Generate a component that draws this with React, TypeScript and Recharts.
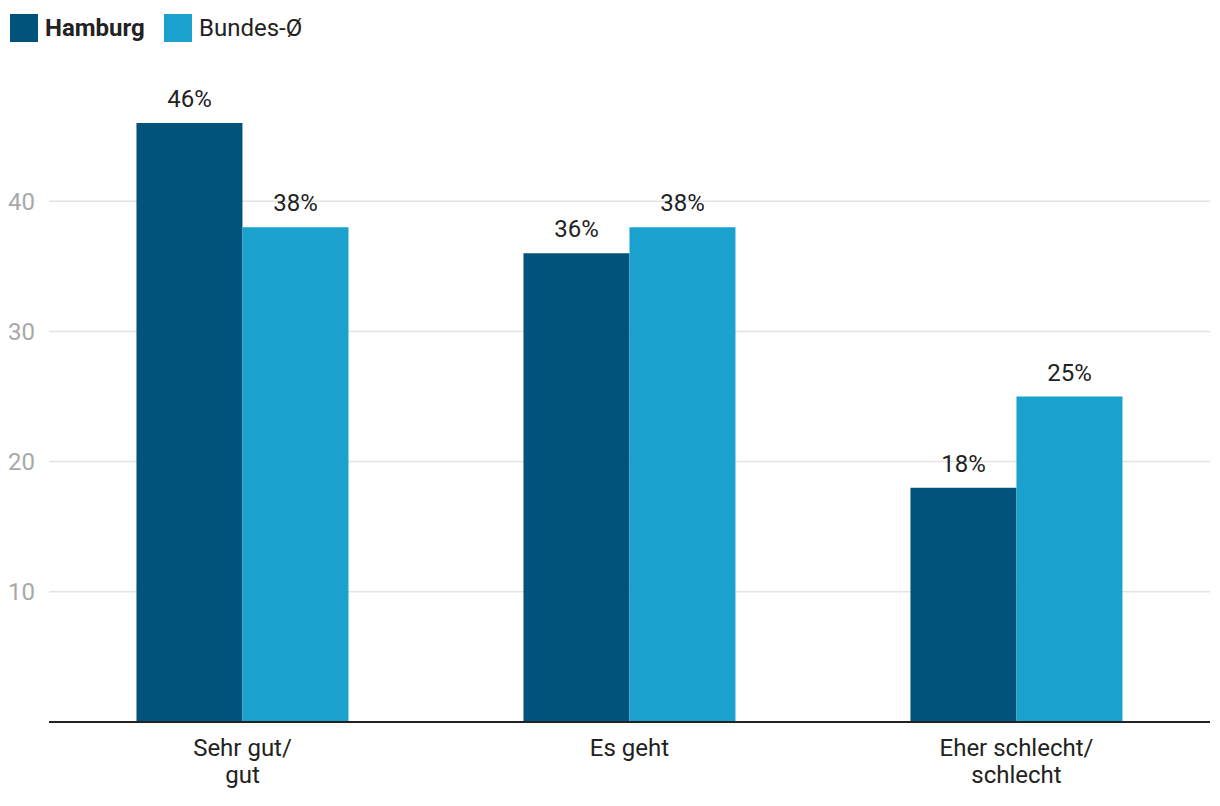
import React from "react";
import { BarChart, Bar, XAxis, YAxis, CartesianGrid, LabelList } from "recharts";

const categories = ["Sehr gut/\ngut", "Es geht", "Eher schlecht/\nschlecht"];
const hamburg = [46, 36, 18];
const bundes = [38, 38, 25];
const yTicks = [10, 20, 30, 40];

const data = categories.map((c, i) => ({ cat: c, hamburg: hamburg[i], bundes: bundes[i] }));

const C_HH = "#02537b";
const C_BD = "#1ba1ce";

const XTick = (props: any) => {
  const { x, y, payload } = props;
  const lines = String(payload.value).split("\n");
  return (
    <text x={x} y={y} textAnchor="middle" fill="#222" fontSize={24} fontFamily="Roboto">
      {lines.map((l: string, i: number) => (
        <tspan key={i} x={x} dy={i === 0 ? 26 : 27}>{l}</tspan>
      ))}
    </text>
  );
};

const fmt = (v: any) => `${v}%`;

export default function App() {
  return (
    <div style={{ position: "absolute", left: 0, top: 0, width: 1220, height: 806, fontFamily: "Roboto", background: "#fff" }}>
      <div style={{ position: "absolute", left: 10, top: 14, width: 28, height: 28, background: C_HH }} />
      <div style={{ position: "absolute", left: 45, top: 14, height: 28, lineHeight: "28px", fontSize: 24, fontWeight: 700, color: "#222" }}>Hamburg</div>
      <div style={{ position: "absolute", left: 164, top: 14, width: 28, height: 28, background: C_BD }} />
      <div style={{ position: "absolute", left: 199, top: 14, height: 28, lineHeight: "28px", fontSize: 24, color: "#222" }}>Bundes-Ø</div>
      <BarChart
        width={1220}
        height={806}
        data={data}
        margin={{ top: 71, right: 10, left: 0, bottom: 54 }}
        barCategoryGap="22.6%"
        barGap={0}
      >
        <CartesianGrid vertical={false} horizontalValues={yTicks} stroke="#e3e3e3" strokeWidth={1.5} />
        <YAxis
          width={49}
          domain={[0, 50]}
          ticks={yTicks}
          axisLine={false}
          tickLine={false}
          tickMargin={8}
          tick={{ fill: "#a8a8a8", fontSize: 24, fontFamily: "Roboto" }}
        />
        <XAxis
          dataKey="cat"
          height={30}
          axisLine={{ stroke: "#222", strokeWidth: 2 }}
          tickLine={false}
          tick={<XTick />}
          interval={0}
        />
        <Bar dataKey="hamburg" fill={C_HH} isAnimationActive={false}>
          <LabelList dataKey="hamburg" position="top" offset={16} formatter={fmt} fill="#222" fontSize={24} fontFamily="Roboto" />
        </Bar>
        <Bar dataKey="bundes" fill={C_BD} isAnimationActive={false}>
          <LabelList dataKey="bundes" position="top" offset={16} formatter={fmt} fill="#222" fontSize={24} fontFamily="Roboto" />
        </Bar>
      </BarChart>
    </div>
  );
}
